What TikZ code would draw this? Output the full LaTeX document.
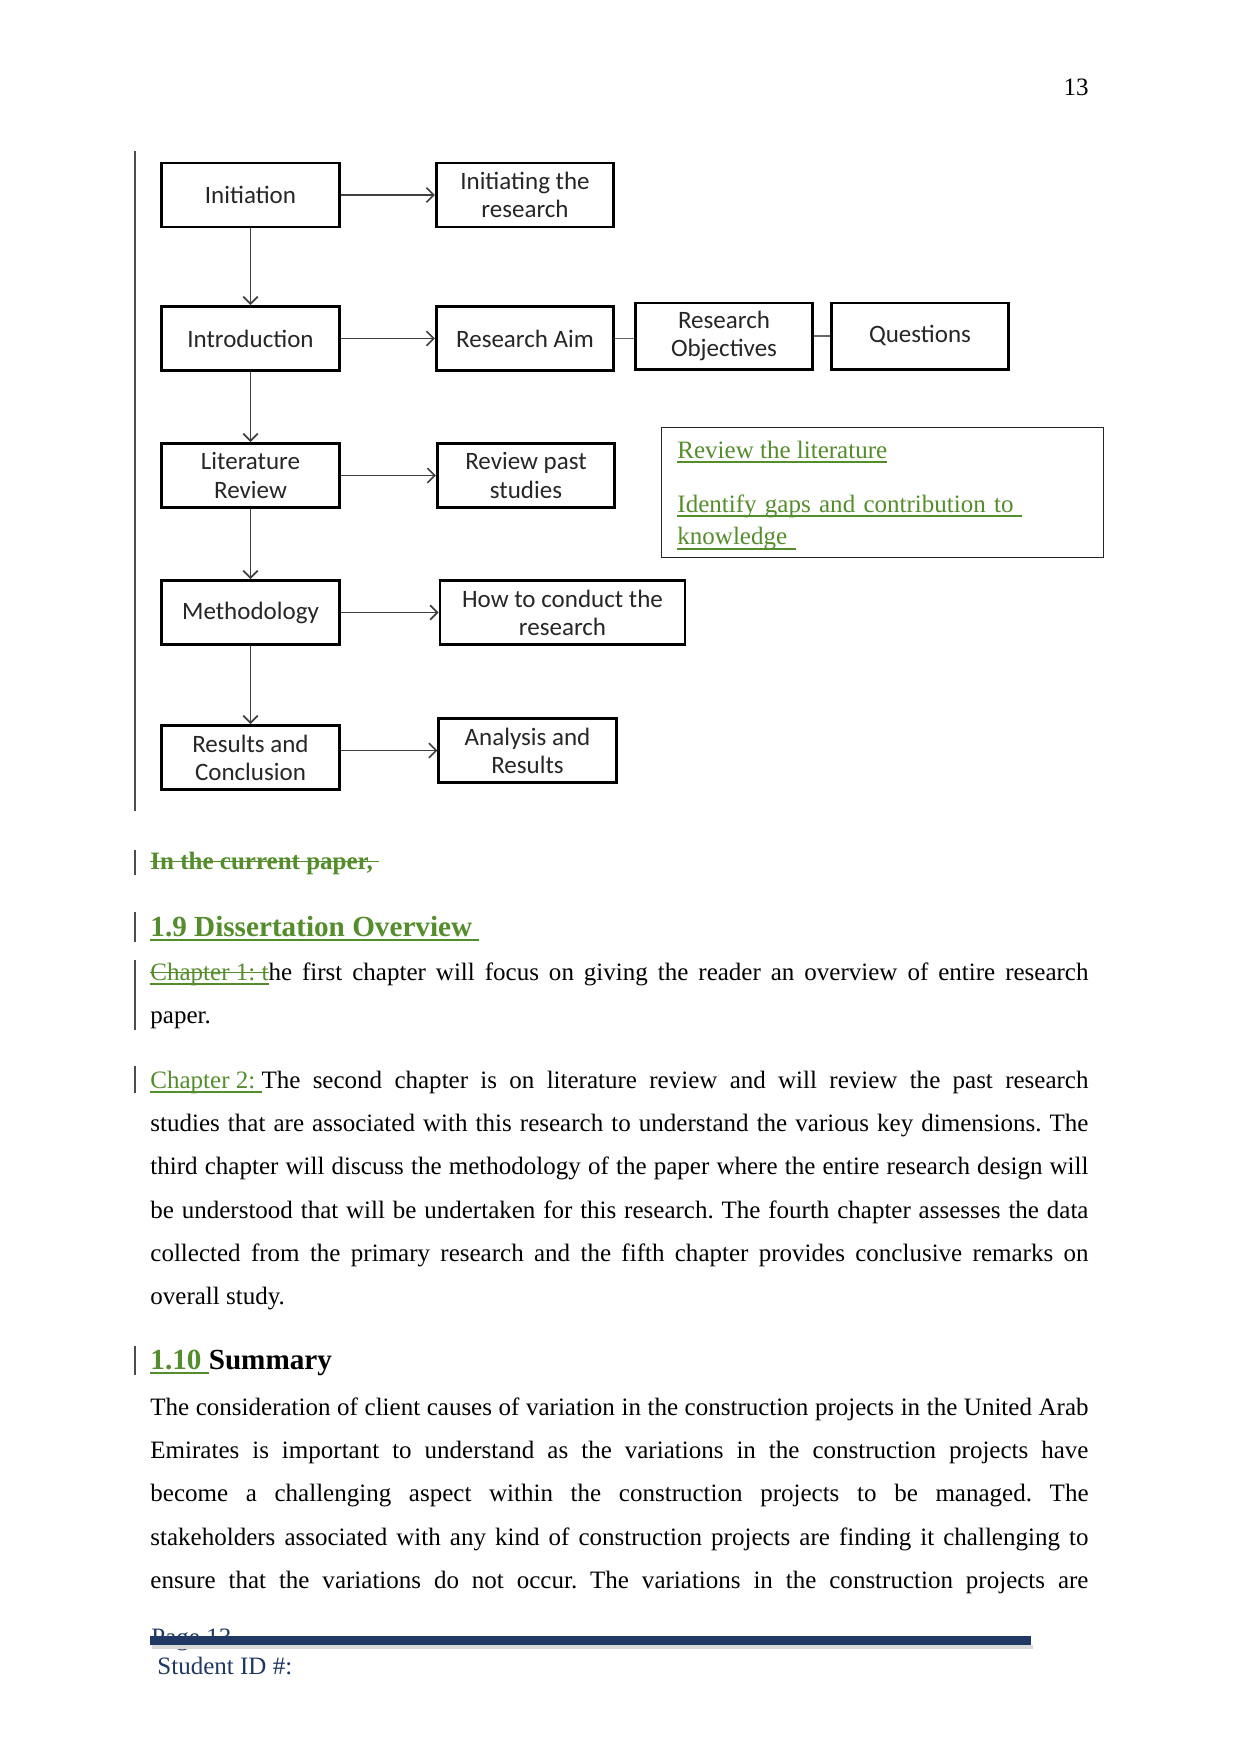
\documentclass[tikz,border=0pt]{standalone}
\usepackage{fontspec}
\setmainfont{Liberation Serif}
\newfontfamily\chartfont{Carlito}
\usetikzlibrary{arrows.meta}
\setlength{\parindent}{0pt}
\hyphenpenalty=10000
\frenchspacing
\definecolor{trackgreen}{RGB}{84,141,43}
\definecolor{footnavy}{RGB}{31,56,100}
\newsavebox\markbox
\newcommand{\markunder}[1]{\leavevmode\sbox\markbox{#1}\rlap{\usebox\markbox}\rule[-2.2pt]{\wd\markbox}{0.6pt}}
\newcommand{\markstrike}[1]{\leavevmode\sbox\markbox{#1}\rlap{\usebox\markbox}\rule[0.27em]{\wd\markbox}{0.6pt}}
\tikzset{
  flowbox/.style={draw=black, line width=1.4pt, minimum width=85pt, minimum height=30.7pt,
    align=center, inner sep=2pt, text=black!85, font=\chartfont\fontsize{12}{13.5}\selectfont},
  flowarrow/.style={draw=black!75, line width=0.8pt, -{Straight Barb[length=3.5pt,width=7pt]}},
  flowlink/.style={draw=black!60, line width=0.8pt},
  changebar/.style={draw=black!70, line width=0.5pt},
  bodytext/.style={anchor=base west, inner sep=0pt, text width=450pt, align=justify,
    font=\fontsize{12}{20.8}\selectfont},
  plaintext/.style={anchor=base west, inner sep=0pt, font=\fontsize{12}{14}\selectfont},
  headtext/.style={anchor=base west, inner sep=0pt, font=\fontsize{14}{16}\selectfont\bfseries},
}
\begin{document}
\begin{tikzpicture}[x=0.4797pt, y=-0.4797pt]
% page
\fill[white] (0,0) rectangle (1241,1754);
\useasboundingbox (0,0) rectangle (1241,1754);
\node[plaintext, anchor=base east] (pagenum) at (1089,96) {13};

% chart boxes
\node[flowbox] (init) at (250.5,195) {Initiation};
\node[flowbox] (initres) at (525,195) {Initiating the\\research};
\node[flowbox] (intro) at (250.5,338.5) {Introduction};
\node[flowbox] (aim) at (525,338.5) {Research Aim};
\node[flowbox, minimum height=31.7pt] (objectives) at (724,336) {Research\\Objectives};
\node[flowbox, minimum height=31.7pt] (questions) at (920,336) {Questions};
\node[flowbox] (litrev) at (250.5,475.5) {Literature\\Review};
\node[flowbox] (pastwork) at (526,475.5) {Review past\\studies};
\node[flowbox] (method) at (250.5,612.5) {Methodology};
\node[flowbox, minimum width=117.5pt] (conduct) at (562.5,612.5) {How to conduct the\\research};
\node[flowbox] (results) at (250.5,757.5) {Results and\\Conclusion};
\node[flowbox] (analysis) at (527.5,750.5) {Analysis and\\Results};

% connectors
\draw[flowarrow] (init) -- (initres);
\draw[flowarrow] (init) -- (intro);
\draw[flowarrow] (intro) -- (aim);
\draw[flowlink] (aim.east) -- (aim.east -| objectives.west);
\draw[flowlink] (objectives.east) -- (objectives.east -| questions.west);
\draw[flowarrow] (intro) -- (litrev);
\draw[flowarrow] (litrev) -- (pastwork);
\draw[flowarrow] (litrev) -- (method);
\draw[flowarrow] (method) -- (conduct);
\draw[flowarrow] (method) -- (results);
\draw[flowarrow] (results.east |- analysis) -- (analysis.west);

% comment box
\node[draw=black!85, line width=0.6pt, minimum width=212pt, minimum height=62.4pt,
  anchor=north west, inner sep=0pt] (note) at (661,427) {};
\node[plaintext, text=trackgreen] (notea) at (677,458) {\markunder{Review the literature}};
\node[plaintext, text=trackgreen, text width=200pt, align=left, font=\fontsize{12}{15.8}\selectfont] (noteb) at (677,512)
  {\markunder{Identify gaps and contribution to\ }\\\markunder{knowledge\ }};

% change bars
\draw[changebar] (135,151) -- (135,811);
\draw[changebar] (135,850) -- (135,875);
\draw[changebar] (135,912) -- (135,942);
\draw[changebar] (135,960) -- (135,1030);
\draw[changebar] (135,1066) -- (135,1093);
\draw[changebar] (135,1346) -- (135,1375);

% text
\node[plaintext, text=trackgreen, font=\fontsize{12}{14}\selectfont\bfseries] (deleted) at (150,869)
  {\markstrike{In the current paper,\ }};
\node[headtext, text=trackgreen] (overview) at (150,936) {\markunder{1.9 Dissertation Overview\ }};
\node[bodytext] (chapone) at (150,980)
  {\textcolor{trackgreen}{\markunder{\markstrike{Chapter 1: t}}}he first chapter will focus on giving the reader an overview of entire research\linebreak
  paper.};
\node[bodytext] (chaptwo) at (150,1088)
  {\textcolor{trackgreen}{\markunder{Chapter 2:\ }}The second chapter is on literature review and will review the past research\linebreak
  studies that are associated with this research to understand the various key dimensions. The\linebreak
  third chapter will discuss the methodology of the paper where the entire research design will\linebreak
  be understood that will be undertaken for this research. The fourth chapter assesses the data\linebreak
  collected from the primary research and the fifth chapter provides conclusive remarks on\linebreak
  overall study.};
\node[headtext] (summary) at (150,1369) {\textcolor{trackgreen}{\markunder{1.10\ }}Summary};
\node[bodytext] (summarytext) at (150,1415)
  {The consideration of client causes of variation in the construction projects in the United Arab\linebreak
  Emirates is important to understand as the variations in the construction projects have\linebreak
  become a challenging aspect within the construction projects to be managed. The\linebreak
  stakeholders associated with any kind of construction projects are finding it challenging to\linebreak
  ensure that the variations do not occur. The variations in the construction projects are\parfillskip=0pt\par};

% footer
\node[plaintext, text=footnavy] (pagefoot) at (151,1645) {Page 13};
\fill[black!15] (152,1645) rectangle (1033,1649);
\fill[footnavy] (150,1636) rectangle (1031,1645);
\node[plaintext, text=footnavy] (studentid) at (157,1674) {Student ID \#:};
\end{tikzpicture}
\end{document}
